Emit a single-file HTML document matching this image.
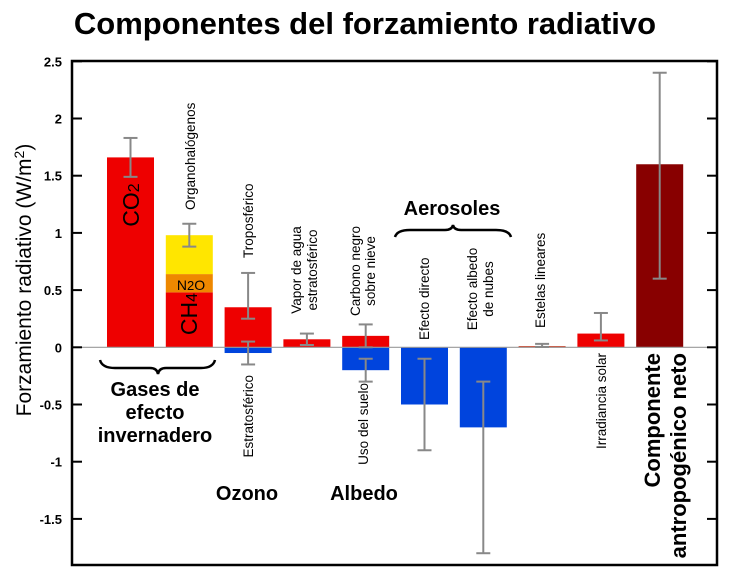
<!DOCTYPE html>
<html><head><meta charset="utf-8"><style>
html,body{margin:0;padding:0;background:#fff;}
svg{display:block;font-family:"Liberation Sans",sans-serif;}
</style></head><body>
<svg id="chart" width="730" height="572" viewBox="0 0 730 572">
<text x="365" y="34" text-anchor="middle" font-size="31" font-weight="bold">Componentes del forzamiento radiativo</text>
<g id="plot"></g>
</svg>
<script>
const categories = ["CO2","CH4","N2O","Organohalógenos","Troposférico","Estratosférico","Vapor de agua estratosférico","Carbono negro sobre nieve","Uso del suelo","Efecto directo","Efecto albedo de nubes","Estelas lineares","Irradiancia solar","Componente antropogénico neto"];
const slots    = [0,1,1,1,2,2,3,4,4,5,6,7,8,9];
const bases    = [0,0,0.48,0.64,0,0,0,0,0,0,0,0,0,0];
const values   = [1.66,0.48,0.16,0.34,0.35,-0.05,0.07,0.1,-0.2,-0.5,-0.7,0.01,0.12,1.6];
const colors   = ["#ee0000","#ee0000","#ee8800","#ffe600","#ee0000","#0044dd","#ee0000","#ee0000","#0044dd","#0044dd","#0044dd","#cc2200","#ee0000","#880000"];
const errLow   = [1.49,null,null,0.88,0.25,-0.15,0.02,0.0,-0.3,-0.9,-1.8,0.003,0.06,0.6];
const errHigh  = [1.83,null,null,1.08,0.65,0.05,0.12,0.2,-0.1,-0.1,-0.3,0.03,0.3,2.4];
const tickValues = [2.5,2,1.5,1,0.5,0,-0.5,-1,-1.5];
const tickLabels = ["2.5","2","1.5","1","0.5","0","-0.5","-1","-1.5"];

const NS="http://www.w3.org/2000/svg";
const g=document.getElementById('plot');
const L=72,R=717,T=61,B=565;
const y=v=>347.3-v*114.4;
const x=s=>107+s*58.8;
const BW=47;
function mk(tag,attrs,parent){const e=document.createElementNS(NS,tag);for(const k in attrs)e.setAttribute(k,attrs[k]);(parent||g).appendChild(e);return e;}

// bars
for(let i=0;i<values.length;i++){
  const v0=bases[i],v1=bases[i]+values[i];
  const r=mk('rect',{x:x(slots[i]),y:Math.min(y(v0),y(v1)),width:BW,height:Math.max(1.5,Math.abs(y(v1)-y(v0))),fill:colors[i]});
  
  
}
// zero line
const zl=mk('line',{x1:L,x2:R,y1:y(0),y2:y(0),stroke:'#999','stroke-width':1.2});


// error bars
for(let i=0;i<values.length;i++){
  if(errLow[i]===null)continue;
  const cx=x(slots[i])+BW/2;
  const eg=mk('g',{stroke:'#888','stroke-width':2});
  
  
  mk('line',{x1:cx,x2:cx,y1:y(errLow[i]),y2:y(errHigh[i])},eg);
  mk('line',{x1:cx-7,x2:cx+7,y1:y(errLow[i]),y2:y(errLow[i])},eg);
  mk('line',{x1:cx-7,x2:cx+7,y1:y(errHigh[i]),y2:y(errHigh[i])},eg);
}
// axes frame
const fr=mk('rect',{x:L,y:T,width:R-L,height:B-T,fill:'none',stroke:'#000','stroke-width':2.5});


for(let i=0;i<tickValues.length;i++){
  const ty=y(tickValues[i]);
  mk('line',{x1:L,x2:L+10,y1:ty,y2:ty,stroke:'#000','stroke-width':2});
  mk('line',{x1:R-10,x2:R,y1:ty,y2:ty,stroke:'#000','stroke-width':2});
  const t=mk('text',{x:62,y:ty+5,'text-anchor':'end','font-size':13,'font-weight':'bold'});
  t.textContent=tickLabels[i];
  
  
}
</script>
<svg style="position:absolute;left:0;top:0" width="730" height="572">
<g font-family="Liberation Sans, sans-serif">
<text transform="translate(31,280) rotate(-90)" text-anchor="middle" font-size="21">Forzamiento radiativo (W/m<tspan font-size="14" dy="-7">2</tspan><tspan dy="7">)</tspan></text>
<text transform="translate(139,205) rotate(-90)" text-anchor="middle" font-size="23">CO<tspan font-size="16">2</tspan></text>
<text x="191" y="290" text-anchor="middle" font-size="14">N<tspan font-size="13">2</tspan>O</text>
<text transform="translate(197,314) rotate(-90)" text-anchor="middle" font-size="23">CH<tspan font-size="16">4</tspan></text>
<g font-size="13.5">
<text transform="translate(195,210) rotate(-90)">Organohalógenos</text>
<text transform="translate(253,258) rotate(-90)">Troposférico</text>
<text transform="translate(301,270) rotate(-90)" text-anchor="middle">Vapor de agua</text>
<text transform="translate(317,270) rotate(-90)" text-anchor="middle">estratosférico</text>
<text transform="translate(360,271) rotate(-90)" text-anchor="middle">Carbono negro</text>
<text transform="translate(375,271) rotate(-90)" text-anchor="middle">sobre nieve</text>
<text transform="translate(429,340) rotate(-90)">Efecto directo</text>
<text transform="translate(477,289) rotate(-90)" text-anchor="middle">Efecto albedo</text>
<text transform="translate(493,289) rotate(-90)" text-anchor="middle">de nubes</text>
<text transform="translate(545,328) rotate(-90)">Estelas lineares</text>
<text transform="translate(606,353) rotate(-90)" text-anchor="end">Irradiancia solar</text>
<text transform="translate(253,375) rotate(-90)" text-anchor="end">Estratosférico</text>
<text transform="translate(368,383) rotate(-90)" text-anchor="end">Uso del suelo</text>
</g>
<g font-size="22" font-weight="bold">
<text transform="translate(660,353) rotate(-90)" text-anchor="end">Componente</text>
<text transform="translate(686,353) rotate(-90)" text-anchor="end">antropogénico neto</text>
</g>
<g font-size="20" font-weight="bold" text-anchor="middle">
<text x="155" y="396">Gases de</text>
<text x="155" y="419">efecto</text>
<text x="155" y="442">invernadero</text>
<text x="247" y="500">Ozono</text>
<text x="364" y="500">Albedo</text>
<text x="452" y="215">Aerosoles</text>
</g>
<path d="M100,360 Q102,368 115,368 L150,368 Q157,368 158,374 Q159,368 166,368 L201,368 Q213,368 215,360" fill="none" stroke="#000" stroke-width="2.5"/>
<path d="M395,237 Q397,230 410,230 L445,230 Q452,230 453,225 Q454,230 461,230 L496,230 Q509,230 511,237" fill="none" stroke="#000" stroke-width="2.5"/>
</g>
</svg>
</body></html>
